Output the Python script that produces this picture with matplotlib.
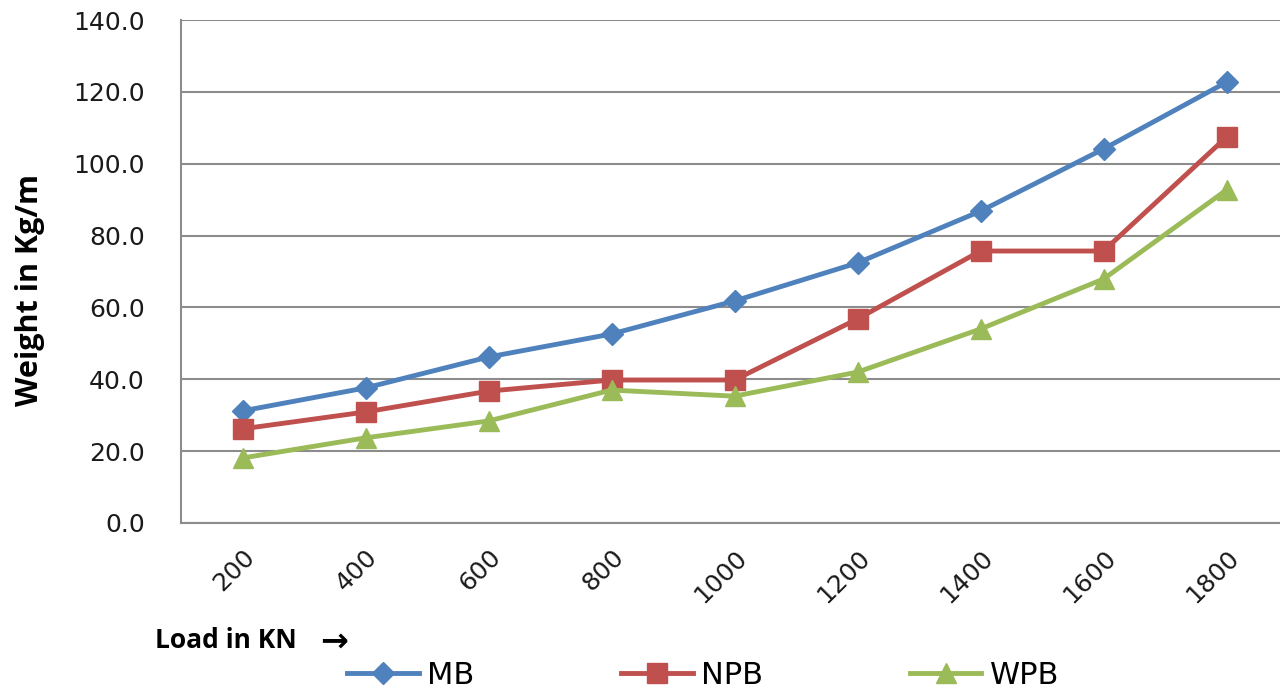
import matplotlib
matplotlib.use("Agg")
import matplotlib.pyplot as plt
from matplotlib.lines import Line2D

loads = ["200", "400", "600", "800", "1000", "1200", "1400", "1600", "1800"]
mb = [31.2, 37.6, 46.2, 52.6, 61.8, 72.4, 86.8, 104.1, 122.7]
npb = [26.2, 30.9, 36.7, 39.8, 39.8, 56.8, 75.7, 75.7, 107.4]
wpb = [18.1, 23.7, 28.4, 37.0, 35.3, 42.0, 54.0, 67.9, 92.7]
yticks = [0, 20, 40, 60, 80, 100, 120, 140]

c_mb, c_npb, c_wpb = "#4F81BD", "#C0504D", "#9BBB59"
grid_c = "#8C8C8C"

fig = plt.figure(figsize=(12.8, 6.9), dpi=100)
ax = fig.add_axes([181/1280, 167/690, 1107/1280, 503/690])

x = list(range(len(loads)))
ax.plot(x, mb, color=c_mb, lw=3.5, marker="D", ms=11, label="MB", zorder=3)
ax.plot(x, npb, color=c_npb, lw=3.5, marker="s", ms=14, label="NPB", zorder=3)
ax.plot(x, wpb, color=c_wpb, lw=3.5, marker="^", ms=15, label="WPB", zorder=3)

ax.set_xlim(-0.5, len(loads) - 0.5)
ax.set_ylim(0, 140)
ax.set_yticks(yticks)
ax.set_yticklabels([f"{v:.1f}" for v in yticks], fontsize=18, color="#1a1a1a")
ax.set_xticks(x)
ax.set_xticklabels(loads, fontsize=18, color="#1a1a1a", rotation=45,
                   ha="right", rotation_mode="anchor")
ax.tick_params(axis="both", length=0)
ax.tick_params(axis="y", pad=26)
ax.tick_params(axis="x", pad=16)
ax.yaxis.grid(True, color=grid_c, lw=1.5)
ax.set_axisbelow(True)
for s in ["top", "right"]:
    ax.spines[s].set_visible(False)
for s in ["left", "bottom"]:
    ax.spines[s].set_color(grid_c)
    ax.spines[s].set_linewidth(1.5)

fig.text(30/1280, 1 - 290/690, "Weight in Kg/m", rotation=90, fontsize=22,
         fontweight="bold", ha="center", va="center", family=["Open Sans", "DejaVu Sans"])
fig.text(155/1280, 1 - 640/690, "Load in KN", fontsize=19,
         fontweight="bold", ha="left", va="center", family=["Open Sans", "DejaVu Sans"])
fig.text(320/1280, 1 - 641/690, "\u2192", fontsize=24,
         fontweight="bold", ha="left", va="center", family=["DejaVu Sans"])

handles = [
    Line2D([], [], color=c_mb, lw=3.5, marker="D", ms=11),
    Line2D([], [], color=c_npb, lw=3.5, marker="s", ms=14),
    Line2D([], [], color=c_wpb, lw=3.5, marker="^", ms=15),
]
fig.legend(handles, ["MB", "NPB", "WPB"], loc="center",
           bbox_to_anchor=(703/1280, 1 - 675/690), ncol=3, frameon=False,
           fontsize=22, handlelength=2.35, handletextpad=0.27, columnspacing=4.8,
           borderpad=0, borderaxespad=0)

fig.savefig("out.png", dpi=100)
